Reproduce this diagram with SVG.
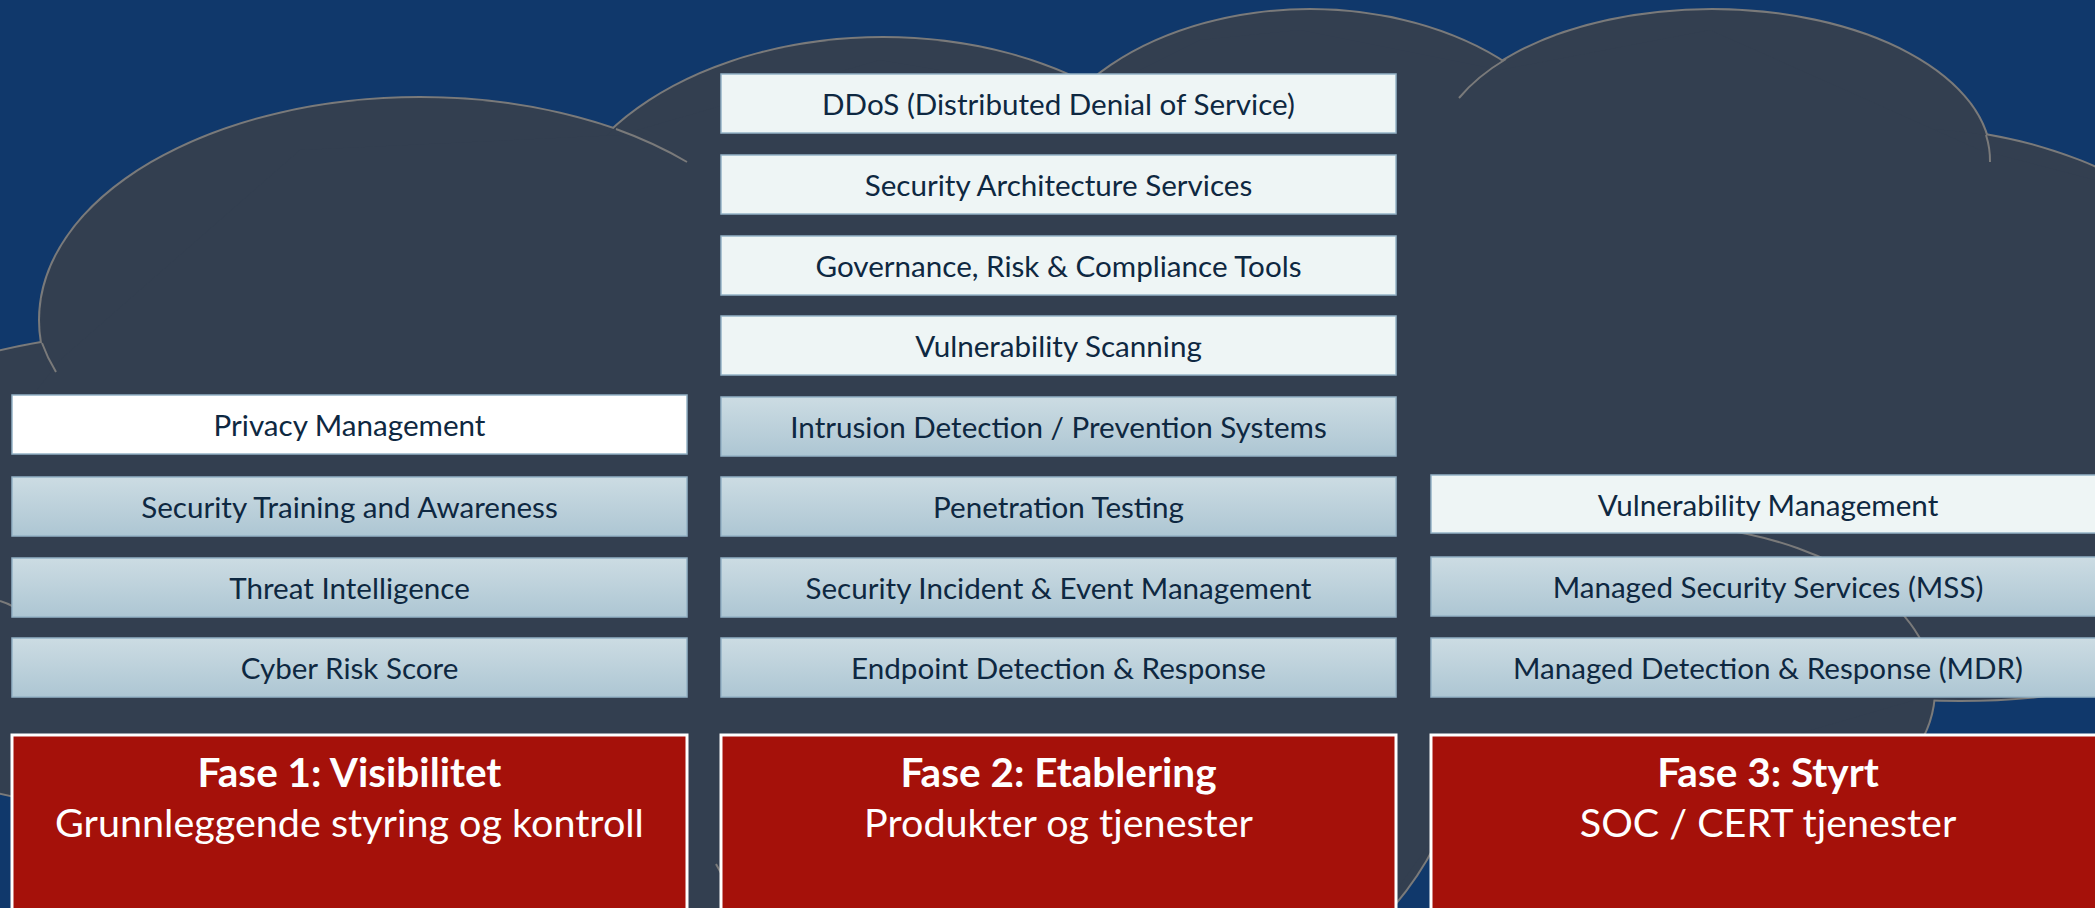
<svg xmlns="http://www.w3.org/2000/svg" width="2095" height="908" viewBox="0 0 2095 908">
<style>
.lobe{fill:#333F50;stroke:#7A7A7A;stroke-width:4}
.lobef{fill:#333F50;stroke:none}
.tail{fill:none;stroke:#7A7A7A;stroke-width:2}
.box{stroke:#94B3C6;stroke-width:1.5}
.lt{fill:#EEF5F5}
.wh{fill:#FFFFFF}
.gr{fill:url(#g)}
.bt{font-family:Lato,"Liberation Sans",sans-serif;font-size:29.6px;fill:#0E2841;text-anchor:middle}
.red{fill:#A5110A;stroke:#FFFFFF;stroke-width:3}
.t1{font-family:Lato,"Liberation Sans",sans-serif;font-size:40.5px;font-weight:bold;fill:#FFFFFF;text-anchor:middle}
.t2{font-family:Lato,"Liberation Sans",sans-serif;font-size:39.5px;fill:#FFFFFF;text-anchor:middle}
</style>
<defs>
<linearGradient id="g" x1="0" y1="0" x2="0" y2="1">
<stop offset="0" stop-color="#CCDCE3"/>
<stop offset="1" stop-color="#ADC6D3"/>
</linearGradient>
</defs>
<rect x="0" y="0" width="2095" height="908" fill="#10386B"/>
<g id="cloud">
<g id="cloud-outline">
<ellipse class="lobe" cx="150" cy="572" rx="400" ry="238"/>
<ellipse class="lobe" cx="420" cy="320" rx="380" ry="222"/>
<ellipse class="lobe" cx="883" cy="253" rx="330" ry="215"/>
<ellipse class="lobe" cx="1310" cy="200" rx="281" ry="190"/>
<ellipse class="lobe" cx="1712" cy="160" rx="278" ry="150"/>
<ellipse class="lobe" cx="1900" cy="400" rx="376" ry="272"/>
<ellipse class="lobe" cx="1960" cy="470" rx="420" ry="230"/>
<ellipse class="lobe" cx="1650" cy="690" rx="284" ry="166"/>
<ellipse class="lobe" cx="1050" cy="720" rx="415" ry="330"/>
<ellipse class="lobe" cx="420" cy="820" rx="400" ry="300"/>
</g>
<g id="cloud-fill">
<ellipse class="lobef" cx="150" cy="572" rx="400" ry="238"/>
<ellipse class="lobef" cx="420" cy="320" rx="380" ry="222"/>
<ellipse class="lobef" cx="883" cy="253" rx="330" ry="215"/>
<ellipse class="lobef" cx="1310" cy="200" rx="281" ry="190"/>
<ellipse class="lobef" cx="1712" cy="160" rx="278" ry="150"/>
<ellipse class="lobef" cx="1900" cy="400" rx="376" ry="272"/>
<ellipse class="lobef" cx="1960" cy="470" rx="420" ry="230"/>
<ellipse class="lobef" cx="1650" cy="690" rx="284" ry="166"/>
<ellipse class="lobef" cx="1050" cy="720" rx="415" ry="330"/>
<ellipse class="lobef" cx="420" cy="820" rx="400" ry="300"/>
<polygon class="lobef" points="14,908 14,420 60,360 300,150 620,135 880,60 1000,80 1090,95 1200,40 1300,30 1500,70 1710,30 1980,150 2095,180 2095,685 1932,695 1432,840 1400,885 1394,908"/>
</g>
<g id="cloud-tails">
<path class="tail" d="M616,129 A380,222 0 0 1 687,162"/>
<path class="tail" d="M42,343 A380,222 0 0 0 56,372"/>
<path class="tail" d="M1506,59 A278,150 0 0 0 1459,98"/>
<path class="tail" d="M1986,135 A278,150 0 0 1 1990,162"/>
<path class="tail" d="M1712,528 A284,166 0 0 1 1934,690"/>
<path class="tail" d="M0,601 Q7,603 14,607"/>
<path class="tail" d="M716,864 L721,873"/>
</g>
</g>
<g id="connectors"/>
<g id="col1">
<g id="privacy"><rect class="box wh" x="12" y="395" width="675" height="59"/><text class="bt" x="349.5" y="436">Privacy Management</text></g>
<g id="training"><rect class="box gr" x="12" y="477" width="675" height="59"/><text class="bt" x="349.5" y="518">Security Training and Awareness</text></g>
<g id="threat"><rect class="box gr" x="12" y="558" width="675" height="59"/><text class="bt" x="349.5" y="599">Threat Intelligence</text></g>
<g id="cyber"><rect class="box gr" x="12" y="638" width="675" height="59"/><text class="bt" x="349.5" y="679">Cyber Risk Score</text></g>
</g>
<g id="col2">
<g id="ddos"><rect class="box lt" x="721" y="74" width="675" height="59"/><text class="bt" x="1058.5" y="115">DDoS (Distributed Denial of Service)</text></g>
<g id="secarch"><rect class="box lt" x="721" y="155" width="675" height="59"/><text class="bt" x="1058.5" y="196">Security Architecture Services</text></g>
<g id="grc"><rect class="box lt" x="721" y="236" width="675" height="59"/><text class="bt" x="1058.5" y="277">Governance, Risk &amp; Compliance Tools</text></g>
<g id="vulnscan"><rect class="box lt" x="721" y="316" width="675" height="59"/><text class="bt" x="1058.5" y="357">Vulnerability Scanning</text></g>
<g id="ids"><rect class="box gr" x="721" y="397" width="675" height="59"/><text class="bt" x="1058.5" y="438">Intrusion Detection / Prevention Systems</text></g>
<g id="pentest"><rect class="box gr" x="721" y="477" width="675" height="59"/><text class="bt" x="1058.5" y="518">Penetration Testing</text></g>
<g id="siem"><rect class="box gr" x="721" y="558" width="675" height="59"/><text class="bt" x="1058.5" y="599">Security Incident &amp; Event Management</text></g>
<g id="edr"><rect class="box gr" x="721" y="638" width="675" height="59"/><text class="bt" x="1058.5" y="679">Endpoint Detection &amp; Response</text></g>
</g>
<g id="col3">
<g id="vulnmgmt"><rect class="box lt" x="1431" y="475" width="675" height="58"/><text class="bt" x="1768" y="516">Vulnerability Management</text></g>
<g id="mss"><rect class="box gr" x="1431" y="557" width="675" height="59"/><text class="bt" x="1768" y="598">Managed Security Services (MSS)</text></g>
<g id="mdr"><rect class="box gr" x="1431" y="638" width="675" height="59"/><text class="bt" x="1768" y="679">Managed Detection &amp; Response (MDR)</text></g>
</g>
<g id="fase1"><rect class="red" x="12" y="735" width="675" height="200"/><text class="t1" x="349.5" y="787">Fase 1: Visibilitet</text><text class="t2" x="349.5" y="837">Grunnleggende styring og kontroll</text></g>
<g id="fase2"><rect class="red" x="721" y="735" width="675" height="200"/><text class="t1" x="1058.5" y="787">Fase 2: Etablering</text><text class="t2" x="1058.5" y="837">Produkter og tjenester</text></g>
<g id="fase3"><rect class="red" x="1431" y="735" width="675" height="200"/><text class="t1" x="1768" y="787">Fase 3: Styrt</text><text class="t2" x="1768" y="837">SOC / CERT tjenester</text></g>
</svg>
